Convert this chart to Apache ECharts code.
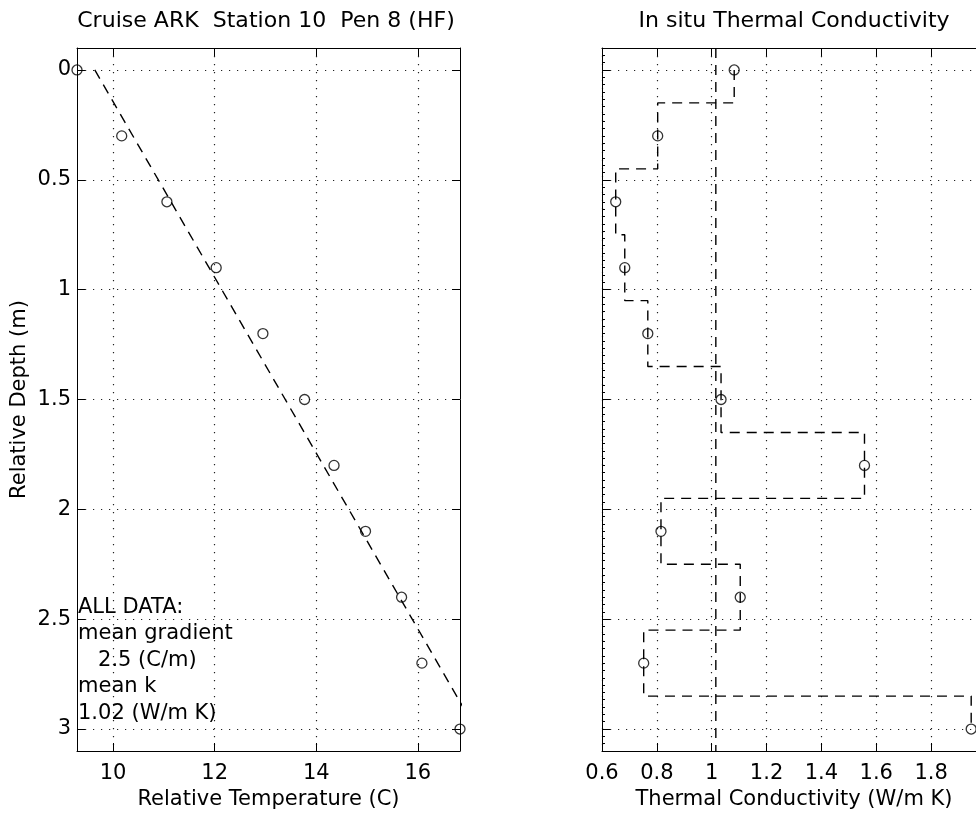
<!DOCTYPE html>
<html><head><meta charset="utf-8">
<script src="https://cdn.jsdelivr.net/npm/echarts@6/dist/echarts.min.js"></script>
<style>html,body{margin:0;padding:0;background:#fff;overflow:hidden}#c{width:976px;height:815px}</style>
</head><body><div id="c"></div>
<script>
// ---- data ----
const depths = [0, 0.3, 0.6, 0.9, 1.2, 1.5, 1.8, 2.1, 2.4, 2.7, 3.0];
const temps = [9.29, 10.17, 11.06, 12.03, 12.95, 13.77, 14.35, 14.97, 15.68, 16.08, 16.83];
const fitDepths = [0, 3.0];
const fitTemps = [9.64, 17.14];
const conductivity = [1.082, 0.803, 0.650, 0.683, 0.767, 1.034, 1.557, 0.815, 1.104, 0.752, 1.946];
const meanK = 1.015;
const depthTicks = [0, 0.5, 1, 1.5, 2, 2.5, 3];
const tempTicks = [10, 12, 14, 16];
const kTicks = [0.6, 0.8, 1.0, 1.2, 1.4, 1.6, 1.8, 2.0];
const depthLimits = [-0.1, 3.1];
const tempLimits = [9.29, 16.83];
const kLimits = [0.6, 2.0];
const titles = ['Cruise ARK  Station 10  Pen 8 (HF)', 'In situ Thermal Conductivity'];
const xNames = ['Relative Temperature (C)', 'Thermal Conductivity (W/m K)'];
const yName = 'Relative Depth (m)';
const noteLines = ['ALL DATA:', 'mean gradient', '   2.5 (C/m)', 'mean k', '1.02 (W/m K)'];

// ---- derived ----
const minorDepthTicks = [];
for (let i = -2; i <= 92; i++) minorDepthTicks.push(i / 30);
const stairs = [];
for (let i = 0; i < depths.length; i++) {
  const top = i === 0 ? depths[0] : (depths[i - 1] + depths[i]) / 2;
  const bot = i === depths.length - 1 ? depths[i] : (depths[i] + depths[i + 1]) / 2;
  stairs.push([conductivity[i], top], [conductivity[i], bot]);
}

const FONT = '"DejaVu Sans", "Liberation Sans", Arial, sans-serif';
const FS = 21;
const AX = {color: '#000', width: 1};
const GRIDLINE = {show: true, lineStyle: {color: '#222', width: 1.2, type: [1.2, 6.8]}};
const fmt = v => String(Number(Number(v).toFixed(2)));
const dash = {color: '#000', width: 1.4, type: [10, 7]};
const circ = {color: 'rgba(0,0,0,0)', borderColor: '#000', borderWidth: 1.3};

function xAx(grid, pos, lim, ticks, labels, name) {
  return {
    type: 'value', gridIndex: grid, position: pos, min: lim[0], max: lim[1],
    axisLine: {show: true, onZero: false, lineStyle: AX},
    axisTick: {show: true, inside: true, length: 8, customValues: ticks, lineStyle: AX},
    axisLabel: labels ? {show: true, customValues: ticks, formatter: fmt, color: '#000', fontSize: FS, fontFamily: FONT, margin: 12, hideOverlap: false} : {show: false},
    splitLine: labels ? GRIDLINE : {show: false},
    name: name || '', nameLocation: 'middle', nameGap: 37,
    nameTextStyle: {color: '#000', fontSize: FS, fontFamily: FONT}
  };
}
function yAx(grid, pos, ticks, opts) {
  opts = opts || {};
  return {
    type: 'value', gridIndex: grid, position: pos, inverse: true,
    min: depthLimits[0], max: depthLimits[1],
    axisLine: {show: opts.line !== false, onZero: false, lineStyle: AX},
    axisTick: {show: true, inside: true, length: opts.tickLen || 8, customValues: ticks, lineStyle: AX},
    axisLabel: opts.labels ? {show: true, customValues: ticks, formatter: fmt, color: '#000', fontSize: FS, fontFamily: FONT, margin: 6} : {show: false},
    splitLine: opts.grid ? GRIDLINE : {show: false},
    name: opts.name || '', nameLocation: 'middle', nameGap: 47,
    nameTextStyle: {color: '#000', fontSize: FS, fontFamily: FONT}
  };
}

const chart = echarts.init(document.getElementById('c'), null, {renderer: 'canvas'});
chart.setOption({
  animation: false,
  backgroundColor: '#fff',
  grid: [
    {left: 77, top: 48, width: 383, height: 703, containLabel: false, outerBoundsMode: 'none'},
    {left: 602, top: 48, width: 384, height: 703, containLabel: false, outerBoundsMode: 'none'}
  ],
  xAxis: [
    xAx(0, 'bottom', tempLimits, tempTicks, true, xNames[0]),
    xAx(0, 'top', tempLimits, tempTicks, false),
    xAx(1, 'bottom', kLimits, kTicks, true, xNames[1]),
    xAx(1, 'top', kLimits, kTicks, false)
  ],
  yAxis: [
    yAx(0, 'left', depthTicks, {labels: true, grid: true, name: yName}),
    yAx(0, 'right', depthTicks, {}),
    yAx(1, 'left', depthTicks, {grid: true}),
    yAx(1, 'left', minorDepthTicks, {line: false, tickLen: 3})
  ],
  graphic: [
    {type: 'text', x: 266, y: 22, scaleX: 1.05, style: {text: titles[0], fontSize: FS, fontFamily: FONT, fill: '#000', align: 'center', verticalAlign: 'middle'}},
    {type: 'text', x: 794, y: 22, scaleX: 1.05, style: {text: titles[1], fontSize: FS, fontFamily: FONT, fill: '#000', align: 'center', verticalAlign: 'middle'}},
    {type: 'text', x: 78, y: 594, z: 10, style: {text: noteLines.join('\n'), fontSize: FS, fontFamily: FONT, fill: '#000', lineHeight: 26.5, align: 'left', verticalAlign: 'top'}}
  ],
  series: [
    {type: 'line', xAxisIndex: 0, yAxisIndex: 0, data: fitTemps.map((t, i) => [t, fitDepths[i]]), showSymbol: false, symbol: 'none', lineStyle: dash, clip: true, silent: true},
    {type: 'scatter', xAxisIndex: 0, yAxisIndex: 0, data: temps.map((t, i) => [t, depths[i]]), symbol: 'circle', symbolSize: 10, itemStyle: circ, clip: false, z: 5},
    {type: 'line', xAxisIndex: 2, yAxisIndex: 2, data: stairs, showSymbol: false, symbol: 'none', lineStyle: dash, clip: true, silent: true},
    {type: 'line', xAxisIndex: 2, yAxisIndex: 2, data: [[meanK, depthLimits[0]], [meanK, depthLimits[1]]], showSymbol: false, symbol: 'none', lineStyle: dash, clip: true, silent: true},
    {type: 'scatter', xAxisIndex: 2, yAxisIndex: 2, data: conductivity.map((k, i) => [k, depths[i]]), symbol: 'circle', symbolSize: 10, itemStyle: circ, clip: false, z: 5}
  ]
});
</script></body></html>
